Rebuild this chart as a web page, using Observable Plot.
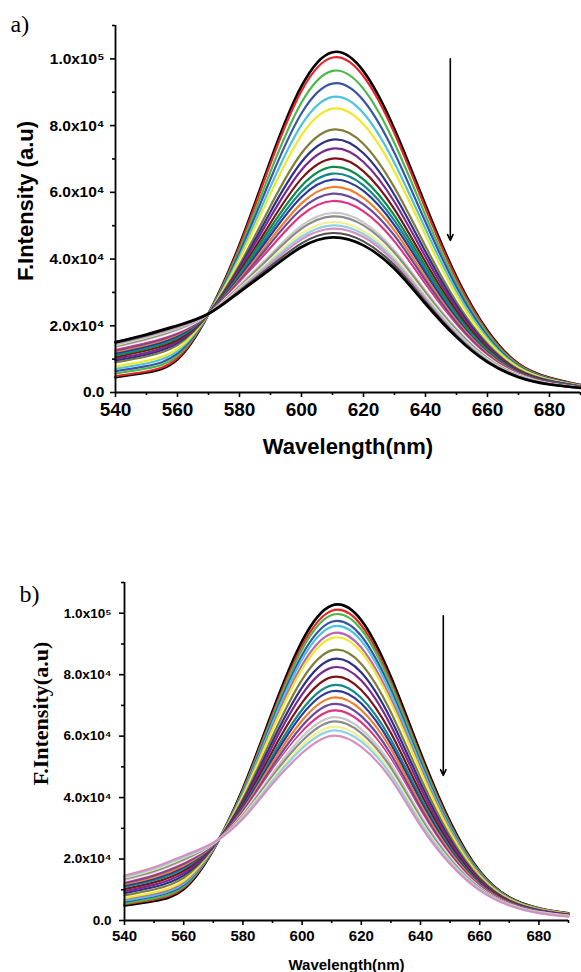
<!DOCTYPE html>
<html>
<head>
<meta charset="utf-8">
<script src="https://cdn.jsdelivr.net/npm/d3@7"></script>
<script src="https://cdn.jsdelivr.net/npm/@observablehq/plot@0.6"></script>
<style>
  html, body { margin: 0; padding: 0; background: #fff; }
  #wrap { position: relative; width: 581px; height: 972px; overflow: hidden; background: #fff; }
  #wrap svg { position: absolute; left: 0; overflow: visible; }
</style>
</head>
<body>
<div id="wrap"></div>
<script>
// ---------- shared axis data ----------
const wavelengths = [540, 550, 560, 570, 580, 590, 600, 610, 620, 630, 640, 650, 660, 670, 680, 690];
const xTicks = [540, 560, 580, 600, 620, 640, 660, 680];
const xMinorTicks = [550, 570, 590, 610, 630, 650, 670, 690];
const yTicks = [0, 20000, 40000, 60000, 80000, 100000];
const yTickLabels = ["0.0", "2.0x10⁴", "4.0x10⁴", "6.0x10⁴", "8.0x10⁴", "1.0x10⁵"];
const yMinorTicks = [10000, 30000, 50000, 70000, 90000, 110000];

// ---------- panel a) : intensity (x10^3 a.u.) at each wavelength ----------
const spectraA = [
  [4.6, 6.0, 10.0, 23.6, 44.2, 69.5, 91.8, 102.0, 96.3, 78.9, 56.1, 34.6, 18.5, 8.6, 4.4, 2.2],
  [4.9, 6.3, 10.3, 23.6, 43.8, 68.6, 90.4, 100.4, 94.8, 77.7, 55.2, 34.1, 18.2, 8.5, 4.3, 2.2],
  [5.7, 7.2, 11.0, 23.6, 42.8, 66.2, 86.9, 96.4, 91.0, 74.7, 53.1, 32.8, 17.6, 8.2, 4.2, 2.1],
  [6.4, 7.9, 11.7, 23.6, 41.8, 64.0, 83.7, 92.6, 87.5, 71.8, 51.1, 31.6, 16.9, 7.9, 4.1, 2.1],
  [7.1, 8.7, 12.4, 23.6, 40.8, 61.7, 80.2, 88.6, 83.7, 68.8, 49.0, 30.3, 16.2, 7.6, 3.9, 2.0],
  [7.8, 9.5, 13.1, 23.6, 39.9, 59.6, 77.1, 85.1, 80.4, 66.2, 47.1, 29.1, 15.6, 7.4, 3.8, 2.0],
  [9.0, 10.8, 14.2, 23.6, 38.3, 55.9, 71.7, 78.8, 74.5, 61.4, 43.8, 27.1, 14.6, 6.9, 3.6, 1.9],
  [9.6, 11.4, 14.8, 23.6, 37.5, 54.2, 69.1, 75.8, 71.7, 59.2, 42.2, 26.1, 14.1, 6.7, 3.5, 1.8],
  [10.1, 11.9, 15.3, 23.6, 36.9, 52.6, 66.7, 73.1, 69.1, 57.1, 40.7, 25.2, 13.6, 6.5, 3.4, 1.8],
  [10.6, 12.6, 15.8, 23.6, 36.1, 50.8, 64.1, 70.1, 66.3, 54.9, 39.1, 24.3, 13.1, 6.3, 3.3, 1.7],
  [11.1, 13.1, 16.3, 23.6, 35.5, 49.4, 61.9, 67.6, 63.9, 53.0, 37.8, 23.4, 12.7, 6.1, 3.2, 1.7],
  [11.5, 13.5, 16.6, 23.6, 35.0, 48.2, 60.2, 65.6, 62.1, 51.5, 36.8, 22.8, 12.3, 6.0, 3.1, 1.7],
  [11.8, 13.8, 16.9, 23.6, 34.5, 47.1, 58.6, 63.8, 60.4, 50.1, 35.8, 22.2, 12.0, 5.9, 3.0, 1.6],
  [12.2, 14.3, 17.4, 23.6, 33.9, 45.8, 56.7, 61.6, 58.3, 48.5, 34.6, 21.5, 11.7, 5.7, 2.9, 1.6],
  [12.6, 14.7, 17.7, 23.6, 33.4, 44.7, 55.0, 59.6, 56.4, 47.0, 33.6, 20.9, 11.3, 5.5, 2.9, 1.6],
  [13.0, 15.2, 18.1, 23.6, 32.9, 43.4, 53.1, 57.4, 54.3, 45.3, 32.4, 20.1, 10.9, 5.4, 2.8, 1.6],
  [13.4, 15.5, 18.4, 23.6, 32.4, 42.3, 51.5, 55.6, 52.7, 44.0, 31.4, 19.6, 10.6, 5.3, 2.7, 1.5],
  [13.7, 15.9, 18.8, 23.6, 32.0, 41.3, 50.0, 53.8, 51.0, 42.6, 30.5, 19.0, 10.3, 5.1, 2.7, 1.5],
  [13.9, 16.1, 19.0, 23.6, 31.7, 40.7, 49.1, 52.8, 50.1, 41.9, 30.0, 18.7, 10.2, 5.1, 2.6, 1.5],
  [14.2, 16.5, 19.3, 23.6, 31.3, 39.7, 47.6, 51.1, 48.4, 40.6, 29.1, 18.1, 9.9, 4.9, 2.6, 1.5],
  [14.4, 16.7, 19.4, 23.6, 31.0, 39.1, 46.7, 50.1, 47.5, 39.8, 28.5, 17.8, 9.7, 4.9, 2.5, 1.5],
  [14.6, 16.9, 19.6, 23.6, 30.8, 38.5, 45.9, 49.1, 46.6, 39.1, 28.0, 17.4, 9.5, 4.8, 2.5, 1.4],
  [14.9, 17.1, 19.9, 23.6, 30.4, 37.8, 44.7, 47.8, 45.3, 38.1, 27.3, 17.0, 9.3, 4.7, 2.5, 1.4],
  [15.1, 17.4, 20.1, 23.6, 30.1, 37.0, 43.6, 46.5, 44.1, 37.1, 26.6, 16.6, 9.1, 4.6, 2.4, 1.4]
];
const colorsA = ["#000000", "#e8262a", "#4cb848", "#3b55a6", "#4fc3dc", "#f0e92a", "#7f7f3a", "#2e3087",
  "#7a2a8e", "#7b1416", "#108a48", "#16888a", "#2b3a9e", "#f07f2a", "#6b4a9e", "#e0337f",
  "#ffffff", "#c8c8c8", "#8c8c8c", "#f3ee8e", "#8fd3e6", "#d88ec0", "#505050", "#000000"];
const arrowA = [{wl: 648, from: 100000, to: 45600}];

// ---------- panel b) : intensity (x10^3 a.u.) at each wavelength ----------
const spectraB = [
  [4.9, 6.4, 10.2, 23.0, 42.9, 68.0, 90.9, 102.5, 97.7, 79.2, 54.6, 32.1, 16.0, 7.5, 4.0, 2.3],
  [5.3, 6.8, 10.6, 23.1, 42.5, 67.1, 89.4, 100.8, 96.1, 77.9, 53.7, 31.6, 15.8, 7.4, 3.9, 2.3],
  [5.6, 7.2, 11.0, 23.2, 42.2, 66.3, 88.2, 99.4, 94.7, 76.8, 52.9, 31.1, 15.6, 7.3, 3.9, 2.2],
  [6.1, 7.8, 11.6, 23.3, 41.7, 65.1, 86.4, 97.2, 92.6, 75.1, 51.6, 30.4, 15.2, 7.2, 3.8, 2.2],
  [6.5, 8.2, 12.0, 23.4, 41.3, 64.2, 85.0, 95.6, 91.0, 73.8, 50.7, 29.9, 15.0, 7.1, 3.7, 2.1],
  [7.0, 8.7, 12.5, 23.5, 40.8, 63.0, 83.1, 93.4, 88.8, 72.1, 49.5, 29.2, 14.7, 6.9, 3.7, 2.1],
  [7.3, 9.1, 12.9, 23.6, 40.5, 62.1, 81.8, 91.9, 87.4, 70.9, 48.7, 28.7, 14.5, 6.9, 3.6, 2.1],
  [8.2, 10.1, 13.9, 23.8, 39.5, 59.9, 78.4, 87.9, 83.5, 67.8, 46.5, 27.4, 13.9, 6.6, 3.5, 2.0],
  [8.9, 10.9, 14.7, 24.0, 38.9, 58.3, 75.9, 85.0, 80.7, 65.5, 44.8, 26.4, 13.4, 6.4, 3.3, 1.9],
  [9.5, 11.6, 15.4, 24.1, 38.2, 56.8, 73.6, 82.3, 78.1, 63.4, 43.3, 25.6, 13.1, 6.3, 3.2, 1.8],
  [10.2, 12.4, 16.2, 24.3, 37.5, 55.1, 70.9, 79.2, 75.0, 61.0, 41.6, 24.6, 12.6, 6.1, 3.1, 1.8],
  [10.9, 13.1, 16.9, 24.4, 36.9, 53.6, 68.6, 76.5, 72.4, 58.9, 40.1, 23.7, 12.2, 5.9, 3.0, 1.7],
  [11.3, 13.6, 17.4, 24.5, 36.5, 52.5, 67.0, 74.6, 70.6, 57.4, 39.0, 23.1, 11.9, 5.8, 3.0, 1.6],
  [11.8, 14.1, 17.9, 24.6, 36.0, 51.4, 65.1, 72.5, 68.5, 55.8, 37.8, 22.4, 11.6, 5.7, 2.9, 1.6],
  [12.2, 14.7, 18.5, 24.7, 35.5, 50.2, 63.3, 70.4, 66.5, 54.1, 36.7, 21.7, 11.3, 5.5, 2.8, 1.5],
  [12.7, 15.2, 19.0, 24.9, 35.0, 49.0, 61.5, 68.3, 64.5, 52.5, 35.5, 21.0, 11.0, 5.4, 2.7, 1.5],
  [13.0, 15.5, 19.3, 24.9, 34.7, 48.4, 60.6, 67.2, 63.4, 51.6, 34.9, 20.7, 10.8, 5.3, 2.7, 1.5],
  [13.2, 15.8, 19.6, 25.0, 34.5, 47.8, 59.7, 66.1, 62.3, 50.8, 34.3, 20.4, 10.7, 5.3, 2.6, 1.4],
  [13.6, 16.1, 19.9, 25.1, 34.2, 47.0, 58.4, 64.7, 61.0, 49.7, 33.5, 19.9, 10.5, 5.2, 2.6, 1.4],
  [13.9, 16.6, 20.4, 25.1, 33.8, 46.1, 57.0, 63.0, 59.3, 48.4, 32.5, 19.3, 10.2, 5.1, 2.5, 1.4],
  [14.2, 16.9, 20.7, 25.2, 33.5, 45.4, 56.0, 61.8, 58.2, 47.4, 31.9, 19.0, 10.1, 5.0, 2.5, 1.3],
  [14.6, 17.3, 21.1, 25.3, 33.1, 44.5, 54.5, 60.1, 56.5, 46.1, 30.9, 18.4, 9.8, 4.9, 2.4, 1.3]
];
const colorsB = ["#000000", "#e8262a", "#4cb848", "#3b55a6", "#4fc3dc", "#b865b8", "#f0e92a", "#7f7f3a",
  "#2e3087", "#7a2a8e", "#7b1416", "#16888a", "#2b3a9e", "#f07f2a", "#6b4a9e", "#e0337f",
  "#ffffff", "#c8c8c8", "#8c8c8c", "#f3ee8e", "#8fd3e6", "#d88ec0"];
const arrowB = [{wl: 647.7, from: 99200, to: 47200}];

// ---------- drawing ----------
const SANS = "'Liberation Sans', Arial, Helvetica, sans-serif";
const SERIF = "'Liberation Serif', 'Times New Roman', serif";

function panel(cfg) {
  const lines = cfg.spectra.map((vals, i) =>
    Plot.line(wavelengths, {
      x: d => d,
      y: (d, j) => vals[j] * 1000,
      stroke: cfg.colors[i],
      strokeWidth: (i === 0 || i === cfg.spectra.length - 1) && cfg.colors[i] === "#000000" ? 2.7 : 2.2,
      curve: "natural"
    })
  );
  return Plot.plot({
    width: 581,
    height: cfg.height,
    marginTop: cfg.mt, marginBottom: cfg.mb, marginLeft: cfg.ml, marginRight: cfg.mr,
    x: {domain: [540, 690]},
    y: {domain: [0, 110000]},
    style: {fontFamily: SANS, fontWeight: "bold", background: "transparent", overflow: "visible"},
    marks: [
      ...lines,
      Plot.ruleX([540], {strokeWidth: 1.8}),
      Plot.ruleY([0], {strokeWidth: 1.8}),
      Plot.axisY(yTicks, {tickSize: 5, tickPadding: cfg.yPad, strokeWidth: 1.6, fontSize: cfg.yFont,
        tickFormat: d => yTickLabels[yTicks.indexOf(d)], label: null}),
      Plot.axisY(yMinorTicks, {tickSize: 3, strokeWidth: 1.6, tickFormat: () => "", label: null}),
      Plot.axisX(xTicks, {tickSize: 5, tickPadding: cfg.xPad, strokeWidth: 1.6, fontSize: cfg.xFont, label: null}),
      Plot.axisX(xMinorTicks, {tickSize: 3, strokeWidth: 1.6, tickFormat: () => "", label: null}),
      Plot.arrow(cfg.arrow, {x1: "wl", x2: "wl", y1: "from", y2: "to", strokeWidth: 1.6, headLength: 6, headAngle: 50}),
      Plot.text([cfg.xTitle], {text: d => d, frameAnchor: "bottom", lineAnchor: "middle", textAnchor: "middle",
        dy: cfg.xTitleDy, fontSize: cfg.xTitleFont, fontWeight: "bold"}),
      Plot.text([cfg.yTitle], {text: d => d, frameAnchor: "left", textAnchor: "middle", lineAnchor: "middle",
        dx: cfg.yTitleDx, dy: cfg.yTitleDy, rotate: -90,
        fontSize: cfg.yTitleFont, fontWeight: "bold", fontFamily: cfg.yTitleFamily}),
      Plot.text([cfg.tag], {text: d => d, frameAnchor: "top-left", textAnchor: "start", lineAnchor: "middle",
        dx: cfg.tagDx, dy: cfg.tagDy, fontSize: 24, fontWeight: "normal", fontFamily: SERIF})
    ]
  });
}

const svgA = panel({
  spectra: spectraA, colors: colorsA, arrow: arrowA,
  height: 470, mt: 25, mb: 78, ml: 115, mr: 1,
  yPad: 6, yFont: 15.5, xPad: 5, xFont: 19,
  xTitle: "Wavelength(nm)", xTitleDy: 54, xTitleFont: 22,
  yTitle: "F.Intensity (a.u)", yTitleDx: -90, yTitleDy: -8, yTitleFont: 22, yTitleFamily: SANS,
  tag: "a)", tagDx: -105, tagDy: -1
});
svgA.style.top = "0px";

const svgB = panel({
  spectra: spectraB, colors: colorsB, arrow: arrowB,
  height: 472, mt: 82, mb: 52, ml: 124, mr: 13,
  yPad: 8, yFont: 13.5, xPad: 5, xFont: 15,
  xTitle: "Wavelength(nm)", xTitleDy: 45, xTitleFont: 15,
  yTitle: "F.Intensity(a.u)", yTitleDx: -84, yTitleDy: -38, yTitleFont: 22, yTitleFamily: SERIF,
  tag: "b)", tagDx: -105, tagDy: 12
});
svgB.style.top = "500px";

const wrap = document.getElementById("wrap");
wrap.appendChild(svgA);
wrap.appendChild(svgB);
</script>
</body>
</html>
